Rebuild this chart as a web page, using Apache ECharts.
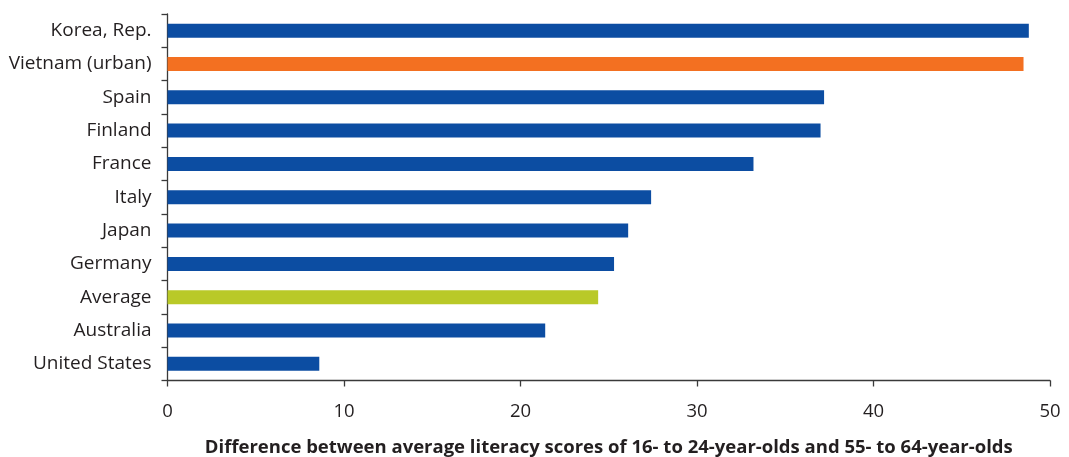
<!DOCTYPE html>
<html><head><meta charset="utf-8">
<script src="https://cdn.jsdelivr.net/npm/echarts@6/dist/echarts.min.js"></script>
<style>html,body{margin:0;padding:0;background:#fff}#c{width:1069px;height:457px}</style>
</head><body><div id="c"></div>
<script>
const categories = ["Korea, Rep.","Vietnam (urban)","Spain","Finland","France","Italy","Japan","Germany","Average","Australia","United States"];
const values = [48.8,48.5,37.2,37.0,33.2,27.4,26.1,25.3,24.4,21.4,8.6];
const barColors = ["#0C4DA2","#F37021","#0C4DA2","#0C4DA2","#0C4DA2","#0C4DA2","#0C4DA2","#0C4DA2","#B9C928","#0C4DA2","#0C4DA2"];
const xTicks = [0,10,20,30,40,50];
const xTitle = "Difference between average literacy scores of 16- to 24-year-olds and 55- to 64-year-olds";

const font = "Open Sans";
const chart = echarts.init(document.getElementById('c'), null, {renderer:'canvas'});
chart.setOption({
  animation:false,
  grid:{left:167.5,right:19,top:14,bottom:76.5,containLabel:false,outerBoundsMode:'none'},
  xAxis:{type:'value',min:0,max:50,interval:10,
    axisLine:{show:true,lineStyle:{color:'#3a3a3a',width:1.3}},
    axisTick:{show:true,length:6,lineStyle:{color:'#3a3a3a',width:1.3}},
    splitLine:{show:false},
    axisLabel:{color:'#231F20',fontFamily:font,fontSize:18.5,margin:22,
      formatter:v=>xTicks.includes(v)?String(v):''},
    name:xTitle,nameLocation:'middle',nameGap:58,
    nameTextStyle:{color:'#231F20',fontFamily:font,fontSize:18.5,fontWeight:'bold'}
  },
  yAxis:{type:'category',data:categories,inverse:true,
    axisLine:{show:true,lineStyle:{color:'#3a3a3a',width:1.3}},
    axisTick:{show:true,length:6,lineStyle:{color:'#3a3a3a',width:1.3}},
    axisLabel:{color:'#231F20',fontFamily:font,fontSize:19,margin:16}
  },
  series:[{type:'bar',barWidth:14,
    data:values.map((v,i)=>({value:v,itemStyle:{color:barColors[i]}}))}]
});
</script></body></html>
